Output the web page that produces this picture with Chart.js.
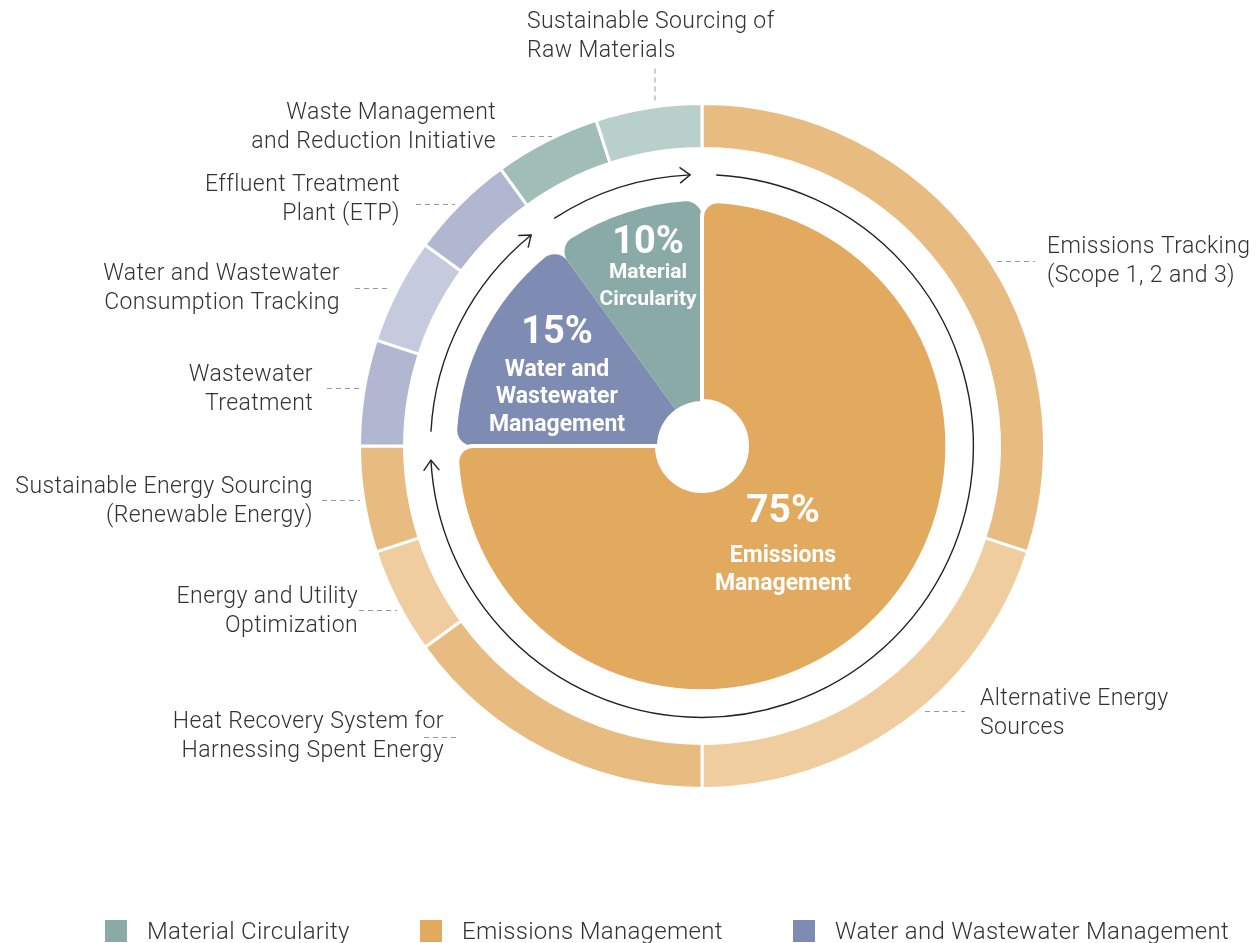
<!DOCTYPE html>
<html>
<head>
<meta charset="utf-8">
<script src="https://cdn.jsdelivr.net/npm/chart.js@4/dist/chart.umd.min.js"></script>
<style>
    html, body { margin: 0; padding: 0; background: #fff; }
    #wrap { position: relative; width: 1260px; height: 943px; overflow: hidden; }
    #chart { position: absolute; left: 0; top: 0; }
    .legend-item { position: absolute; top: 918px; height: 26px; display: flex; align-items: center;
        font-family: Roboto, "Open Sans", sans-serif; font-weight: 300; font-size: 24px; color: #333;
        letter-spacing: 0.3px; white-space: nowrap; }
    .legend-item i { display: inline-block; width: 22px; height: 22px; margin-right: 20px; }
</style>
</head>
<body>
<div id="wrap">
    <canvas id="chart" width="1260" height="943"></canvas>
    <div id="legend"></div>
</div>
<script>
// ========== DATA ==========
const TOPICS = [
    'Emissions Tracking (Scope 1, 2 and 3)',
    'Alternative Energy Sources',
    'Heat Recovery System for Harnessing Spent Energy',
    'Energy and Utility Optimization',
    'Sustainable Energy Sourcing (Renewable Energy)',
    'Wastewater Treatment',
    'Water and Wastewater Consumption Tracking',
    'Effluent Treatment Plant (ETP)',
    'Waste Management and Reduction Initiative',
    'Sustainable Sourcing of Raw Materials'
];
const TOPIC_LINES = [
    ['Emissions Tracking', '(Scope 1, 2 and 3)'],
    ['Alternative Energy', 'Sources'],
    ['Heat Recovery System for', 'Harnessing Spent Energy'],
    ['Energy and Utility', 'Optimization'],
    ['Sustainable Energy Sourcing', '(Renewable Energy)'],
    ['Wastewater', 'Treatment'],
    ['Water and Wastewater', 'Consumption Tracking'],
    ['Effluent Treatment', 'Plant (ETP)'],
    ['Waste Management', 'and Reduction Initiative'],
    ['Sustainable Sourcing of', 'Raw Materials']
];
const TOPIC_VALUES = [30, 20, 15, 5, 5, 5, 5, 5, 5, 5];
const TOPIC_COLORS = ['#E8BB81', '#EFCD9F', '#E8BB81', '#EFCD9F', '#E8BB81',
                      '#B1B7D0', '#C6CADD', '#B1B7D0', '#A0BDB8', '#B9CFCB'];

// inner pie starts at 9 o'clock so the big slice is drawn last
const GROUPS = ['Water and Wastewater Management', 'Material Circularity', 'Emissions Management'];
const GROUP_LINES = [['Water and', 'Wastewater', 'Management'], ['Material', 'Circularity'], ['Emissions', 'Management']];
const GROUP_VALUES = [15, 10, 75];
const GROUP_COLORS = ['#7E8BB2', '#89AAA6', '#E2AA5F'];

const LEGEND = ['Material Circularity', 'Emissions Management', 'Water and Wastewater Management'];

// ========== LAYOUT ==========
// label anchor (x, first line y, align) and leader line, page pixels
const TOPIC_LAYOUT = [
    { x: 1047, y: 247, align: 'left',  lead: [997, 261, 1035, 261] },
    { x: 980,  y: 699, align: 'left',  lead: [925, 711, 965, 711] },
    { x: 444,  y: 722, align: 'right', lead: [424, 737, 458, 737] },
    { x: 358,  y: 597, align: 'right', lead: [359, 610, 397, 610] },
    { x: 313,  y: 487, align: 'right', lead: [322, 500, 360, 500] },
    { x: 313,  y: 375, align: 'right', lead: [327, 388, 362, 388] },
    { x: 340,  y: 274, align: 'right', lead: [355, 288, 390, 288] },
    { x: 400,  y: 185, align: 'right', lead: [416, 204, 455, 204] },
    { x: 496,  y: 113, align: 'right', lead: [512, 136, 552, 136] },
    { x: 527,  y: 22,  align: 'left',  lead: [655, 68, 655, 104] }
];
// group label offsets from the chart centre: percent line, then name lines
const GROUP_LAYOUT = [
    { dx: -145, dy: -113, pct: 38, name: 23, nameDy: 37, step: 27.5 },
    { dx: -54,  dy: -203, pct: 38, name: 21, nameDy: 30, step: 27 },
    { dx: 81,   dy: 66,   pct: 39, name: 23, nameDy: 44, step: 28 }
];
const LEGEND_X = [105, 420, 793];

// ========== PLUGINS ==========
const arrowsPlugin = {
    id: 'arrows',
    afterDatasetsDraw(chart) {
        const ring = chart.getDatasetMeta(0).data[0];
        const { x, y } = ring;
        const r = ring.innerRadius - 26;
        const ctx = chart.ctx;
        // [start, end] in degrees clockwise from 12 o'clock
        const arcs = [[3, 267], [273, 321], [327, 357.5]];
        ctx.save();
        ctx.strokeStyle = '#222';
        ctx.lineWidth = 1.4;
        arcs.forEach(([a0, a1]) => {
            const s = (a0 - 90) * Math.PI / 180;
            const e = (a1 - 90) * Math.PI / 180;
            ctx.beginPath();
            ctx.arc(x, y, r, s, e, false);
            ctx.stroke();
            const tx = x + r * Math.cos(e), ty = y + r * Math.sin(e);
            const dir = e + Math.PI / 2;
            ctx.beginPath();
            [0.65, -0.65].forEach((d, i) => {
                const a = dir + Math.PI + d;
                const px = tx + 13 * Math.cos(a), py = ty + 13 * Math.sin(a);
                if (i === 0) { ctx.moveTo(px, py); ctx.lineTo(tx, ty); }
                else ctx.lineTo(px, py);
            });
            ctx.stroke();
        });
        ctx.restore();
    }
};

const labelsPlugin = {
    id: 'labels',
    afterDraw(chart) {
        const ctx = chart.ctx;
        const ring = chart.getDatasetMeta(0).data[0];
        ctx.save();
        // outer topic labels
        ctx.font = '300 23px Roboto, "Open Sans", sans-serif';
        ctx.letterSpacing = '0.4px';
        ctx.fillStyle = '#333';
        ctx.textBaseline = 'middle';
        TOPIC_LINES.forEach((lines, i) => {
            const p = TOPIC_LAYOUT[i];
            ctx.textAlign = p.align;
            lines.forEach((t, j) => ctx.fillText(t, p.x, p.y + j * 29));
            ctx.beginPath();
            ctx.setLineDash([5, 4]);
            ctx.strokeStyle = '#9a9a9a';
            ctx.lineWidth = 1;
            ctx.moveTo(p.lead[0], p.lead[1] + 0.5);
            ctx.lineTo(p.lead[2], p.lead[3] + 0.5);
            ctx.stroke();
            ctx.setLineDash([]);
        });
        // inner group labels
        ctx.fillStyle = '#fff';
        ctx.textAlign = 'center';
        ctx.letterSpacing = '0px';
        GROUP_LINES.forEach((lines, i) => {
            const g = GROUP_LAYOUT[i];
            const cx = ring.x + g.dx, cy = ring.y + g.dy;
            ctx.font = `bold ${g.pct}px Roboto, sans-serif`;
            ctx.fillText(GROUP_VALUES[i] + '%', cx, cy);
            ctx.font = `bold ${g.name}px Roboto, sans-serif`;
            lines.forEach((t, j) => ctx.fillText(t, cx, cy + g.nameDy + j * g.step));
        });
        ctx.restore();
    }
};

// ========== CHART ==========
const chart = new Chart(document.getElementById('chart'), {
    type: 'doughnut',
    data: {
        labels: TOPICS,
        datasets: [
            { data: TOPIC_VALUES, backgroundColor: TOPIC_COLORS, borderColor: '#fff',
              borderWidth: 3, hoverBorderWidth: 3, weight: 45 },
            { data: [1], backgroundColor: 'rgba(0,0,0,0)', borderWidth: 0, hoverBorderWidth: 0, weight: 52 },
            { data: GROUP_VALUES, backgroundColor: GROUP_COLORS, borderColor: '#fff',
              borderWidth: [0, 0, 4], hoverBorderWidth: [0, 0, 4], rotation: -90, weight: 200,
              borderRadius: { outerStart: 16, outerEnd: 16, innerStart: 0, innerEnd: 0 } }
        ]
    },
    options: {
        responsive: false,
        animation: false,
        cutout: 45,
        layout: { padding: { left: 358, right: 214, top: 102, bottom: 153 } },
        plugins: { legend: { display: false }, tooltip: { enabled: false } },
        events: []
    },
    plugins: [arrowsPlugin, labelsPlugin]
});

// ========== LEGEND ==========
const legendEl = document.getElementById('legend');
LEGEND.forEach((name, i) => {
    const div = document.createElement('div');
    div.className = 'legend-item';
    div.style.left = LEGEND_X[i] + 'px';
    div.innerHTML = `<i style="background:${GROUP_COLORS[GROUPS.indexOf(name)]}"></i><span>${name}</span>`;
    legendEl.appendChild(div);
});
</script>
</body>
</html>
